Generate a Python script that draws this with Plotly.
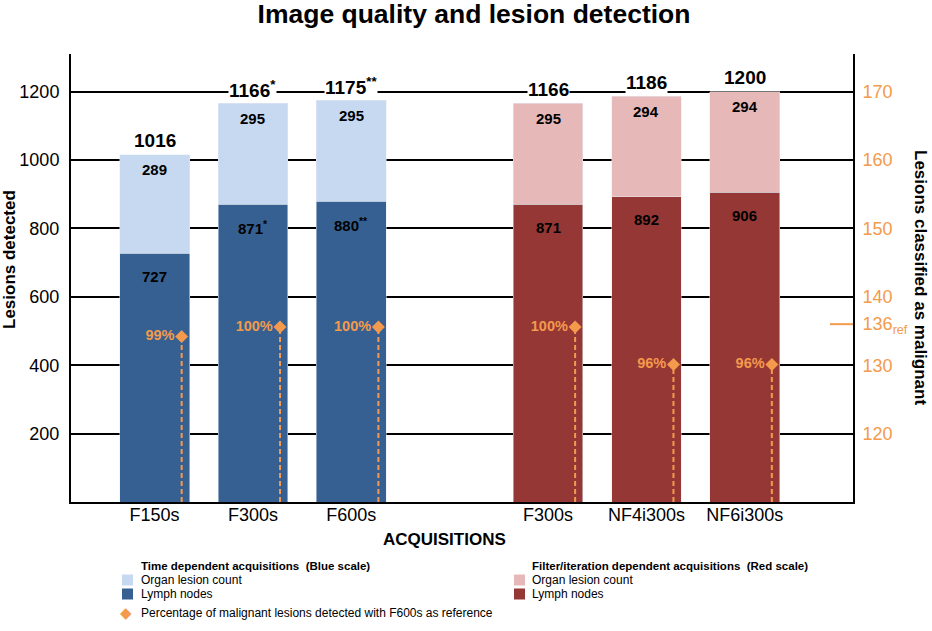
import plotly.graph_objects as go

# acquisitions (blue = time dependent, red = filter/iteration dependent)
blue_names = ["F150s", "F300s", "F600s"]
red_names = ["F300s", "NF4i300s", "NF6i300s"]
blue_pos = [0, 1, 2]
red_pos = [4, 5, 6]

blue_lymph = [727, 871, 880]
blue_organ = [289, 295, 295]
red_lymph = [871, 892, 906]
red_organ = [295, 294, 294]

blue_total_txt = ["1016", "1166<sup>*</sup>", "1175<sup>**</sup>"]
red_total_txt = ["1166", "1186", "1200"]
blue_lymph_txt = ["727", "871<sup>*</sup>", "880<sup>**</sup>"]

# lesions classified as malignant (right axis) and % of F600s reference
malignant = [134.2, 135.6, 135.6, 135.6, 130.1, 130.1]
pct_txt = ["99%", "100%", "100%", "100%", "96%", "96%"]
ref_value = 136

FONT = "Liberation Sans, Arial, sans-serif"
ORANGE = "#F39A4C"
LBLUE = "#C6D9F1"
DBLUE = "#366092"
LRED = "#E6B9B8"
DRED = "#953735"

# plot area in pixels
L, R, T, B = 71, 853, 54, 502
def px(x):
    return (x - L) / (R - L)
def py(y):
    return (B - y) / (B - T)

def note(x, y, text, size, color="black", angle=0, anchor="center", family=FONT):
    # paper-positioned text, given in pixels
    fig.add_annotation(xref="paper", yref="paper", x=px(x), y=py(y), text=text,
                       textangle=angle, showarrow=False, xanchor=anchor, yanchor="middle",
                       font=dict(size=size, color=color, family=family))

fig = go.Figure()

fig.add_bar(x=blue_pos, y=blue_lymph, marker_color=DBLUE, width=0.71)
fig.add_bar(x=blue_pos, y=blue_organ, marker_color=LBLUE, width=0.71)
fig.add_bar(x=red_pos, y=red_lymph, marker_color=DRED, width=0.71)
fig.add_bar(x=red_pos, y=red_organ, marker_color=LRED, width=0.71)

# dashed drop lines + diamonds on the right axis
all_pos = blue_pos + red_pos
dx, dy = [], []
for p, v in zip(all_pos, malignant):
    dx += [p + 0.275, p + 0.275, None]
    dy += [110, v, None]
fig.add_scatter(x=dx, y=dy, yaxis="y2", mode="lines",
                line=dict(color=ORANGE, width=2, dash="5px,3px"))
fig.add_scatter(x=[p + 0.275 for p in all_pos], y=malignant, yaxis="y2",
                mode="markers+text", text=["<b>" + t + "</b>" for t in pct_txt],
                textposition="middle left",
                textfont=dict(color=ORANGE, size=14.5, family=FONT),
                marker=dict(symbol="diamond", size=10, color=ORANGE))

# bar labels
lymph_all = blue_lymph + red_lymph
organ_all = blue_organ + red_organ
totals = [a + b for a, b in zip(lymph_all, organ_all)]
lymph_txt = blue_lymph_txt + [str(v) for v in red_lymph]
total_txt = blue_total_txt + red_total_txt
for p, ly, og, tot, lt, tt in zip(all_pos, lymph_all, organ_all, totals, lymph_txt, total_txt):
    fig.add_annotation(x=p, y=ly, yshift=-23, text="<b>" + lt + "</b>", showarrow=False,
                       font=dict(size=15, color="black", family=FONT))
    fig.add_annotation(x=p, y=tot, yshift=-15, text="<b>" + str(og) + "</b>", showarrow=False,
                       font=dict(size=15, color="black", family=FONT))
    fig.add_annotation(x=p, y=tot, yshift=14, text="<b>" + tt + "</b>", showarrow=False,
                       font=dict(size=19, color="black", family=FONT),
                       bgcolor="white", borderpad=0)

# reference tick on right axis
fig.add_shape(type="line", xref="paper", yref="y2", x0=px(830), x1=1, y0=ref_value, y1=ref_value,
              line=dict(color=ORANGE, width=2))

# axis titles
note(9, 260, "<b>Lesions detected</b>", 17, angle=-90)
note(921, 277, "<b>Lesions classified as malignant</b>", 17, angle=90)
note(444, 539, "<b>ACQUISITIONS</b>", 17)

# legend (hand made)
leg = [
    (122, 139, "Time dependent acquisitions  (Blue scale)", LBLUE, DBLUE),
    (514, 530, "Filter/iteration dependent acquisitions  (Red scale)", LRED, DRED),
]
for sx, tx, title, c1, c2 in leg:
    note(tx, 566, "<b>" + title + "</b>", 11.5, anchor="left")
    for yy, lab, col in [(580, "Organ lesion count", c1), (594, "Lymph nodes", c2)]:
        fig.add_shape(type="rect", xref="paper", yref="paper", x0=px(sx), x1=px(sx + 11),
                      y0=py(yy - 5.5), y1=py(yy + 5.5), fillcolor=col, line_width=0)
        note(tx, yy, lab, 12, anchor="left")
note(126, 613, "◆", 15, color=ORANGE, family="DejaVu Sans")
note(139, 613, "Percentage of malignant lesions detected with F600s as reference", 12, anchor="left")

fig.update_layout(
    width=932, height=631,
    margin=dict(l=L, r=932 - R, t=T, b=631 - B, autoexpand=False),
    barmode="stack", showlegend=False,
    plot_bgcolor="white", paper_bgcolor="white",
    font=dict(family=FONT, color="black"),
    title=dict(text="<b>Image quality and lesion detection</b>", x=474 / 932, xanchor="center",
               y=1 - 14 / 631, yanchor="middle", font=dict(size=26.5, color="black", family=FONT)),
    xaxis=dict(range=[-0.85, 7.1], tickvals=blue_pos + red_pos, ticktext=blue_names + red_names,
               tickfont=dict(size=18), showline=True, linecolor="black", linewidth=2,
               showgrid=False, zeroline=False, ticks="", ticklabelstandoff=-5),
    yaxis=dict(range=[0, 1310], tickvals=[200, 400, 600, 800, 1000, 1200],
               tickfont=dict(size=18), showgrid=True, gridcolor="black", gridwidth=1.5,
               showline=True, linecolor="black", linewidth=2, zeroline=False, ticks="",
               ticklabelstandoff=6),
    yaxis2=dict(range=[110, 110 + 1310 / 20], overlaying="y", side="right", anchor="x",
                tickvals=[120, 130, ref_value, 140, 150, 160, 170],
                ticktext=["120", "130", "136<sub>ref</sub>", "140", "150", "160", "170"],
                tickfont=dict(size=18, color=ORANGE), showgrid=False, zeroline=False,
                showline=True, linecolor="black", linewidth=2, ticks="", ticklabelstandoff=4),
)

# page body has a default 8px margin, drop it so the figure fills the window
fig.write_html("out.html", config={"displayModeBar": False},
               post_script="document.body.style.margin='0';")
